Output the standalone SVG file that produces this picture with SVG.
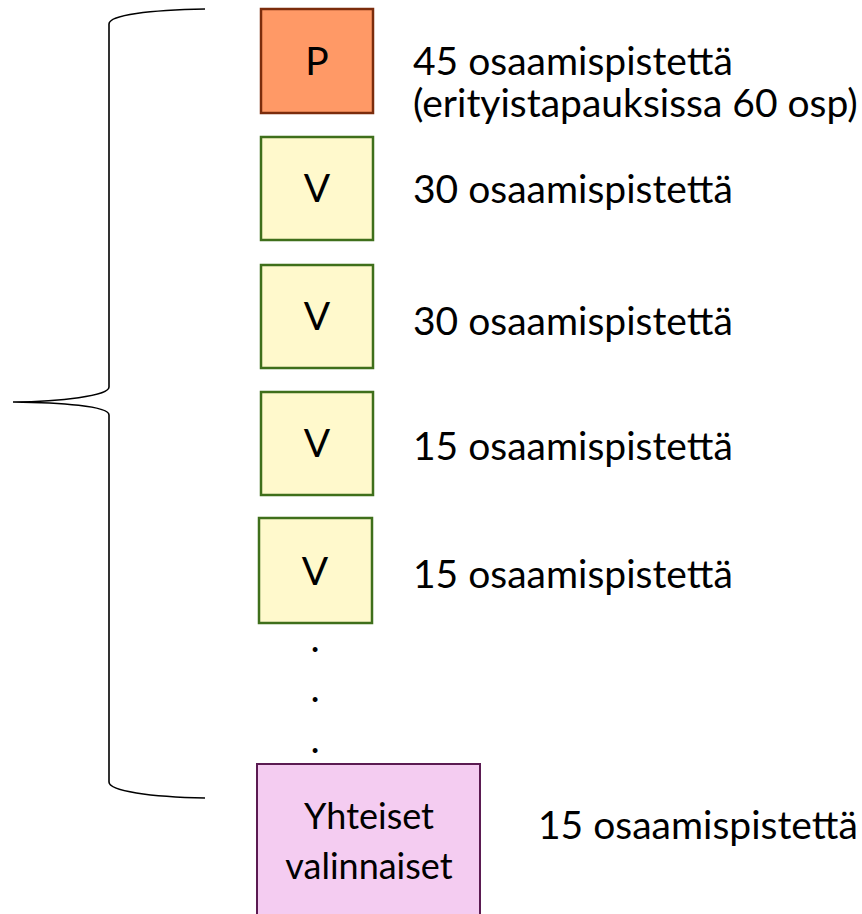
<svg xmlns="http://www.w3.org/2000/svg" width="862" height="914" viewBox="0 0 862 914">
<style>
text{font-family:Lato,"Open Sans","Liberation Sans",sans-serif;fill:#000}
.lbl{font-size:39px}
.box{font-size:39px;text-anchor:middle}
.yv{font-size:36px;text-anchor:middle}
.p{fill:#FF9966;stroke:#7B2C0C;stroke-width:2.5}
.v{fill:#FFF9CC;stroke:#3F6F1B;stroke-width:2.5}
.y{fill:#F4CCF1;stroke:#5B1B52;stroke-width:2}
.brace{fill:none;stroke:#000;stroke-width:1.6}
</style>
<rect width="862" height="914" fill="#fff"/>
<g id="connectors">
<path class="brace" d="M205,9 C150,10 109,15 109,24 V387 C109,396 60,401.5 13,402 C60,402.5 109,406 109,415 V782 C109,791 150,797 205,798"/>
</g>
<g id="nodeP">
<rect class="p" x="261" y="9" width="112" height="104"/>
<text class="box" x="317" y="75">P</text>
<text class="lbl" x="413" y="75">45 osaamispistettä</text>
<text class="lbl" x="413" y="117">(erityistapauksissa 60 osp)</text>
</g>
<g id="nodeV1">
<rect class="v" x="261" y="137" width="112" height="103"/>
<text class="box" x="317" y="202">V</text>
<text class="lbl" x="413" y="203">30 osaamispistettä</text>
</g>
<g id="nodeV2">
<rect class="v" x="261" y="265" width="112" height="103"/>
<text class="box" x="317" y="330">V</text>
<text class="lbl" x="413" y="335">30 osaamispistettä</text>
</g>
<g id="nodeV3">
<rect class="v" x="261" y="392" width="112" height="103"/>
<text class="box" x="317" y="457">V</text>
<text class="lbl" x="413" y="460">15 osaamispistettä</text>
</g>
<g id="nodeV4">
<rect class="v" x="259" y="518" width="113" height="105"/>
<text class="box" x="315" y="585">V</text>
<text class="lbl" x="413" y="588">15 osaamispistettä</text>
</g>
<g id="dots">
<text class="box" x="315" y="652">.</text>
<text class="box" x="315" y="702">.</text>
<text class="box" x="315" y="753">.</text>
</g>
<g id="nodeYhteiset">
<rect class="y" x="257" y="764" width="223" height="160"/>
<text class="yv" x="369" y="829">Yhteiset</text>
<text class="yv" x="369" y="879">valinnaiset</text>
<text class="lbl" x="538" y="839">15 osaamispistettä</text>
</g>
</svg>
